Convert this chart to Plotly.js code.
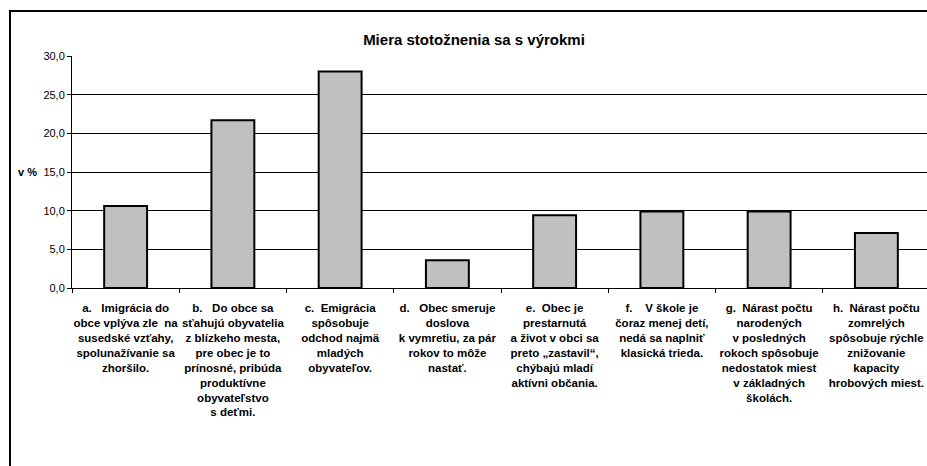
<!DOCTYPE html>
<html>
<head>
<meta charset="utf-8">
<script src="https://cdn.plot.ly/plotly-3.0.1.min.js"></script>
<style>
html,body{margin:0;padding:0;overflow:hidden;background:#fff;}
#chart{width:930px;height:466px;}
</style>
</head>
<body>
<div id="chart"></div>
<script>
const NB = '\u00a0';
const categories = [
  'a.' + NB+NB+NB + 'Imigrácia do<br>obce vplýva zle' + NB+NB + 'na<br>susedské vzťahy,<br>spolunažívanie sa<br>zhoršilo.',
  'b.' + NB+NB+NB + 'Do obce sa<br>sťahujú obyvatelia<br>z blízkeho mesta,<br>pre obec je to<br>prínosné, pribúda<br>produktívne<br>obyvateľstvo<br>s deťmi.',
  'c.' + NB+NB + 'Emigrácia<br>spôsobuje<br>odchod najmä<br>mladých<br>obyvateľov.',
  'd.' + NB+NB+NB + 'Obec smeruje<br>doslova<br>k vymretiu, za pár<br>rokov to môže<br>nastať.',
  'e.' + NB+NB + 'Obec je<br>prestarnutá<br>a život v obci sa<br>preto „zastavil“,<br>chýbajú mladí<br>aktívni občania.',
  'f.' + NB+NB+NB+NB + 'V škole je<br>čoraz menej detí,<br>nedá sa naplniť<br>klasická trieda.',
  'g.' + NB+NB + 'Nárast počtu<br>narodených<br>v posledných<br>rokoch spôsobuje<br>nedostatok miest<br>v základných<br>školách.',
  'h.' + NB+NB + 'Nárast počtu<br>zomrelých<br>spôsobuje rýchle<br>znižovanie<br>kapacity<br>hrobových miest.'
];
const values = [10.6, 21.7, 28.0, 3.6, 9.4, 9.9, 9.9, 7.1];
const yTickVals = [0, 5, 10, 15, 20, 25, 30];
const yTickText = ['0,0', '5,0', '10,0', '15,0', '20,0', '25,0', '30,0'];
const chartTitle = 'Miera stotožnenia sa s výrokmi';
const yLabel = 'v %';

const font = 'Liberation Sans, Arial, sans-serif';

const trace = {
  type: 'bar',
  x: categories,
  y: values,
  marker: {color: '#c0c0c0', line: {color: '#000000', width: 2}},
  hoverinfo: 'skip'
};

const layout = {
  width: 930,
  height: 466,
  margin: {l: 72, r: 0, t: 56, b: 178, pad: 0},
  paper_bgcolor: '#ffffff',
  plot_bgcolor: '#ffffff',
  showlegend: false,
  bargap: 0.6,
  title: {
    text: '<b>' + chartTitle + '</b>',
    font: {family: font, size: 15, color: '#000'},
    x: 474/930, xanchor: 'center',
    y: 1 - 40/466, yanchor: 'middle', yref: 'container'
  },
  xaxis: {
    type: 'category',
    showgrid: false,
    showline: true, linecolor: '#000', linewidth: 1,
    ticks: 'outside', tickson: 'boundaries', ticklen: 4, tickcolor: '#000', tickwidth: 1,
    tickfont: {family: font, size: 11.5, color: '#000', weight: 'bold'},
    tickangle: 0,
    ticklabelstandoff: 9,
    automargin: false,
    fixedrange: true
  },
  yaxis: {
    range: [0, 30],
    tickvals: yTickVals,
    ticktext: yTickText,
    showgrid: true, gridcolor: '#000', gridwidth: 1,
    showline: true, linecolor: '#000', linewidth: 1,
    ticks: 'outside', ticklen: 4, tickcolor: '#000',
    tickfont: {family: font, size: 11, color: '#000'},
    zeroline: false,
    automargin: false,
    fixedrange: true
  },
  annotations: [{
    text: '<b>' + yLabel + '</b>',
    xref: 'paper', yref: 'y',
    x: (39-72)/858, y: 15,
    xanchor: 'right', yanchor: 'middle',
    showarrow: false,
    font: {family: font, size: 11, color: '#000'}
  }],
  shapes: [{
    type: 'rect', xref: 'paper', yref: 'paper',
    x0: (10-72)/858, x1: 1.05,
    y0: (288-480)/232, y1: (288-11)/232,
    line: {color: '#000', width: 2},
    fillcolor: 'rgba(0,0,0,0)',
    layer: 'above'
  }]
};

Plotly.newPlot('chart', [trace], layout, {displayModeBar: false, staticPlot: true});
</script>
</body>
</html>
